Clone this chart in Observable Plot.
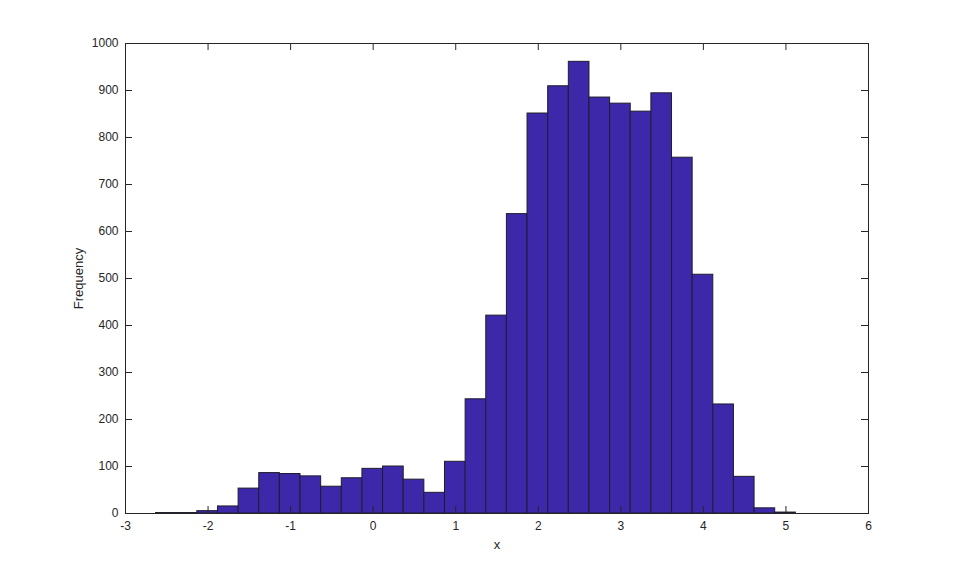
<!DOCTYPE html>
<html>
<head>
<meta charset="utf-8">
<script src="https://cdn.jsdelivr.net/npm/d3@7"></script>
<script src="https://cdn.jsdelivr.net/npm/@observablehq/plot@0.6"></script>
<style>
  html, body { margin: 0; padding: 0; background: #ffffff; }
  #chart svg { display: block; }
</style>
</head>
<body>
<div id="chart"></div>
<script>
// Histogram bins (edges) and counts
const binEdges = [-2.63, -2.38, -2.13, -1.88, -1.63, -1.38, -1.13, -0.88, -0.63, -0.38, -0.13,
  0.12, 0.37, 0.62, 0.87, 1.12, 1.37, 1.62, 1.87, 2.12, 2.37, 2.62, 2.87, 3.12, 3.37, 3.62,
  3.87, 4.12, 4.37, 4.62, 4.87, 5.12];
const counts = [1, 1, 5, 15, 53, 86, 84, 79, 57, 75, 95, 100, 72, 44, 110, 243, 421, 637,
  851, 909, 961, 885, 872, 855, 894, 757, 508, 232, 78, 11, 2];
const xTicks = [-3, -2, -1, 0, 1, 2, 3, 4, 5, 6];
const yTicks = [0, 100, 200, 300, 400, 500, 600, 700, 800, 900, 1000];

const bins = counts.map((c, i) => ({x1: binEdges[i], x2: binEdges[i + 1], count: c}));

const W = 959, H = 577;
const mL = 125, mR = 91, mT = 43, mB = 64;
const tickLen = 7;
const plotW = W - mL - mR, plotH = H - mT - mB;
const axisColor = "#262626";
const font = "'Liberation Sans', Arial, sans-serif";

const chart = Plot.plot({
  width: W,
  height: H,
  marginLeft: mL,
  marginRight: mR,
  marginTop: mT,
  marginBottom: mB,
  style: {fontFamily: font, fontSize: "12px", color: axisColor, background: "#ffffff"},
  x: {domain: [-3, 6]},
  y: {domain: [0, 1000]},
  marks: [
    Plot.rectY(bins, {x1: "x1", x2: "x2", y: "count", fill: "#3c28a8", stroke: "#1e1e2e", strokeWidth: 1}),
    // inward ticks on all four sides
    Plot.ruleX(xTicks, {x: d => d, insetTop: plotH - tickLen, stroke: axisColor}),
    Plot.ruleX(xTicks, {x: d => d, insetBottom: plotH - tickLen, stroke: axisColor}),
    Plot.ruleY(yTicks, {y: d => d, insetRight: plotW - tickLen, stroke: axisColor}),
    Plot.ruleY(yTicks, {y: d => d, insetLeft: plotW - tickLen, stroke: axisColor}),
    Plot.frame({stroke: axisColor, strokeWidth: 1}),
    Plot.axisX({ticks: xTicks, tickSize: 0, tickPadding: 8, tickFormat: d => String(d),
      label: null, fontSize: 12}),
    Plot.axisX({ticks: [], tickSize: 0, label: "x", labelAnchor: "center", labelArrow: "none",
      labelOffset: 35, fontSize: 13}),
    Plot.axisY({ticks: yTicks, tickSize: 0, tickPadding: 7, tickFormat: d => String(d),
      label: null, fontSize: 12}),
    Plot.axisY({ticks: [], tickSize: 0, label: "Frequency", labelAnchor: "center", labelArrow: "none",
      labelOffset: 52, fontSize: 13})
  ]
});
document.getElementById("chart").appendChild(chart);
</script>
</body>
</html>
